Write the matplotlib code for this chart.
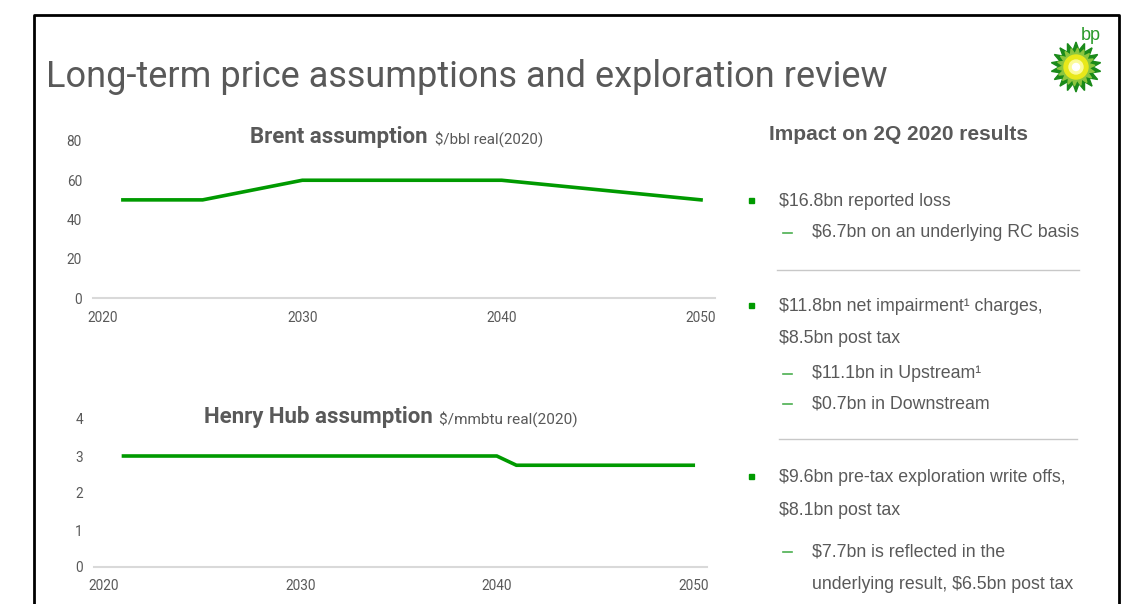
import numpy as np
import matplotlib
matplotlib.use("Agg")
import matplotlib.pyplot as plt
from matplotlib.patches import Polygon, Circle, Rectangle

# ---- data ----
brent_years = [2021, 2025, 2030, 2040, 2050]
brent_values = [50, 50, 60, 60, 50]
hh_years = [2021, 2040, 2041, 2050]
hh_values = [3.0, 3.0, 2.75, 2.75]
x_ticks = [2020, 2030, 2040, 2050]
brent_yticks = [0, 20, 40, 60, 80]
hh_yticks = [0, 1, 2, 3, 4]

title = "Long-term price assumptions and exploration review"
brent_title = "Brent assumption"
brent_unit = "$/bbl real(2020)"
hh_title = "Henry Hub assumption"
hh_unit = "$/mmbtu real(2020)"
panel_title = "Impact on 2Q 2020 results"

W, H = 1144, 604
NARROW = ['Roboto', 'DejaVu Sans']
SANS = ['Liberation Sans', 'DejaVu Sans']
GREEN = '#009a00'
GREY = '#595959'
AXGREY = '#d9d9d9'

fig = plt.figure(figsize=(W / 100, H / 100), dpi=100)
fig.patch.set_facecolor('white')

ov = fig.add_axes([0, 0, 1, 1])
ov.set_xlim(0, W)
ov.set_ylim(H, 0)
ov.axis('off')


def add_axes_px(left, top, right, bottom):
    return fig.add_axes([left / W, 1 - bottom / H, (right - left) / W, (bottom - top) / H])


def style_chart(ax, yticks):
    for s in ['top', 'right', 'left']:
        ax.spines[s].set_visible(False)
    ax.spines['bottom'].set_color(AXGREY)
    ax.spines['bottom'].set_linewidth(1.5)
    ax.set_xticks(x_ticks)
    ax.set_xticklabels([str(t) for t in x_ticks])
    ax.set_yticks(yticks)
    ax.set_yticklabels([str(t) for t in yticks])
    ax.tick_params(length=0, colors=GREY, labelsize=9.8)
    ax.tick_params(axis='x', pad=9)
    ax.tick_params(axis='y', pad=8)
    for lab in ax.get_xticklabels() + ax.get_yticklabels():
        lab.set_fontfamily(NARROW)
    ax.patch.set_alpha(0)


ax1 = add_axes_px(93, 141, 715, 298)
ax1.plot(brent_years, brent_values, color=GREEN, lw=2.6, solid_joinstyle='miter', clip_on=False)
ax1.set_xlim(2019.5, 2050.7)
ax1.set_ylim(0, 80)
style_chart(ax1, brent_yticks)

ax2 = add_axes_px(94, 419, 707, 567)
ax2.plot(hh_years, hh_values, color=GREEN, lw=2.6, solid_joinstyle='miter', clip_on=False)
ax2.set_xlim(2019.5, 2050.7)
ax2.set_ylim(0, 4)
style_chart(ax2, hh_yticks)

# frame
ov.plot([34, 34, 1119, 1119], [H + 5, 15, 15, H + 5], color='black', lw=2, clip_on=False)

# main title
ov.text(46, 77, title, fontsize=26, fontweight='normal', color=GREY, family=NARROW,
        va='center', ha='left')

# chart titles
ov.text(250, 137, brent_title, fontsize=16, fontweight='bold', color=GREY, family=NARROW,
        va='center', ha='left')
ov.text(435, 139, brent_unit, fontsize=10.9, color=GREY, family=NARROW, va='center', ha='left')
ov.text(204, 417, hh_title, fontsize=16, fontweight='bold', color=GREY, family=NARROW,
        va='center', ha='left')
ov.text(439, 419, hh_unit, fontsize=11.1, color=GREY, family=NARROW, va='center', ha='left')

# right panel
ov.text(769, 135, panel_title, fontsize=15, fontweight='bold', color=GREY, family=SANS,
        va='center', ha='left')

bullets = [
    (200, 'sq', "$16.8bn reported loss"),
    (231, 'dash', "$6.7bn on an underlying RC basis"),
    (305, 'sq', "$11.8bn net impairment\u00b9 charges,"),
    (337, None, "$8.5bn post tax"),
    (372, 'dash', "$11.1bn in Upstream\u00b9"),
    (402, 'dash', "$0.7bn in Downstream"),
    (476, 'sq', "$9.6bn pre-tax exploration write offs,"),
    (509, None, "$8.1bn post tax"),
    (550, 'dash', "$7.7bn is reflected in the"),
    (583, 'sub', "underlying result, $6.5bn post tax"),
]
for y, kind, txt in bullets:
    if kind == 'sq':
        ov.add_patch(Rectangle((749, y - 2.5), 5, 5, color=GREEN))
        x = 779
    elif kind == 'dash':
        ov.plot([783, 792], [y + 1.5, y + 1.5], color='#4caf50', lw=1.2)
        x = 812
    elif kind == 'sub':
        x = 812
    else:
        x = 779
    ov.text(x, y + 1.5, txt, fontsize=12.8, color=GREY, family=SANS, va='center', ha='left')

ov.plot([777, 1079], [270, 270], color='#c8c8c8', lw=1)
ov.plot([779, 1077], [439, 439], color='#c8c8c8', lw=1)

# bp logo
cx, cy = 1076, 67
n = 18
ang = np.linspace(0, 2 * np.pi, 2 * n, endpoint=False) - np.pi / 2
r_out = np.where(np.arange(2 * n) % 2 == 0, 25, 17)
ov.add_patch(Polygon(np.c_[cx + r_out * np.cos(ang), cy + r_out * np.sin(ang)],
                     closed=True, color='#1a8a1a'))
ang2 = ang + np.pi / (2 * n)
r_in = np.where(np.arange(2 * n) % 2 == 0, 19, 13)
ov.add_patch(Polygon(np.c_[cx + r_in * np.cos(ang2), cy + r_in * np.sin(ang2)],
                     closed=True, color='#8cc63f'))
ov.add_patch(Circle((cx, cy), 12, color='#e8e81a'))
ov.add_patch(Circle((cx, cy), 7, color='#fbfb9a'))
ov.add_patch(Circle((cx, cy), 3.5, color='white'))
ov.text(1091, 35, "bp", fontsize=13, color='#2a9a2a', family=SANS, va='center', ha='center')

fig.savefig('out.png', dpi=100, facecolor='white')
